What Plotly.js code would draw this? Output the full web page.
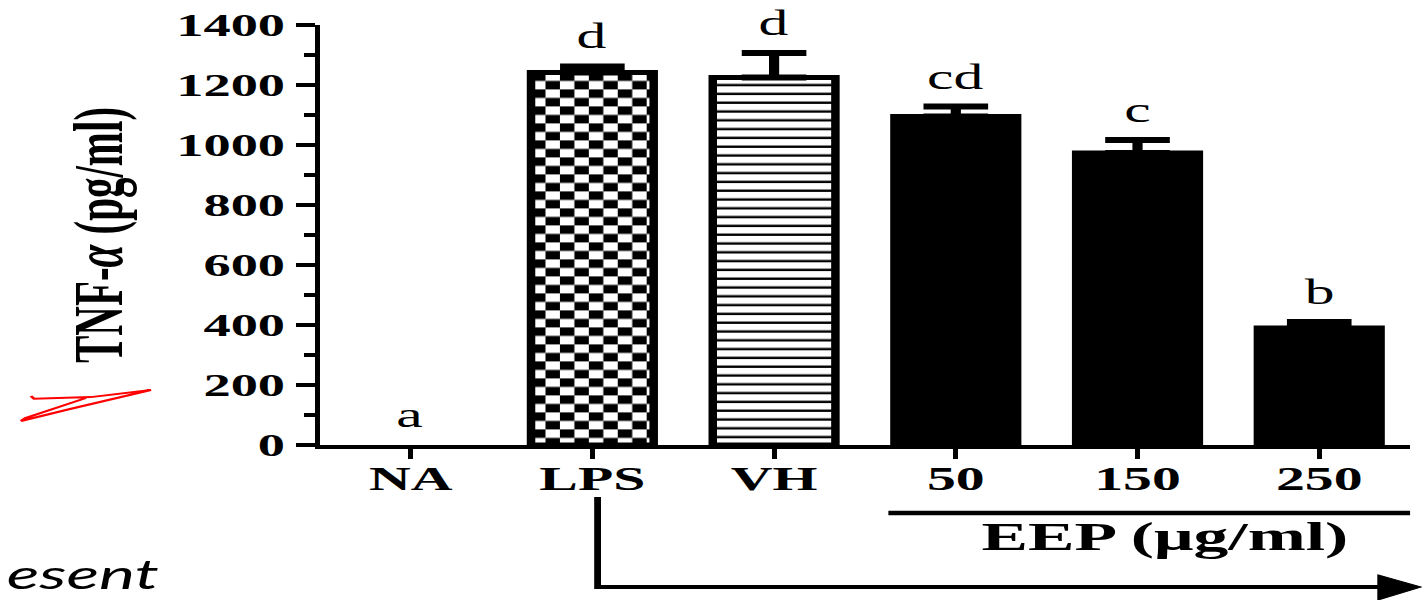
<!DOCTYPE html>
<html><head><meta charset="utf-8">
<script src="https://cdn.plot.ly/plotly-3.0.1.min.js"></script>
<style>
html,body{margin:0;padding:0;background:#fff;overflow:hidden;}
#wrap{width:1422px;height:600px;overflow:hidden;position:relative;}
#chart{width:836px;height:600px;transform:scaleX(1.70096);transform-origin:0 0;}
</style></head><body><div id="wrap"><div id="chart"></div></div>
<script>
// ---- data ----
const categories = ['NA', 'LPS', 'VH', '50', '150', '250'];
const tnfValues = [0, 1242, 1225, 1095, 973, 390];
const tnfErrors = [0, 20, 82, 33, 44, 20];
const groupLetters = ['a', 'd', 'd', 'cd', 'c', 'b'];
const yTickValues = [0, 200, 400, 600, 800, 1000, 1200, 1400];
const yTickLabels = ['0', '200', '400', '600', '800', '1000', '1200', '1400'];
const barFills = ['none', 'checker', 'stripes', 'solid', 'solid', 'solid'];

// ---- styling derived from the fill kinds ----
const barColors = barFills.map(f => (f === 'solid' ? '#000000' : '#ffffff'));
const barLineWidths = barFills.map(f => (f === 'none' ? 0 : 5));
const serif = 'Liberation Serif, Times New Roman, serif';
// no error bar is drawn for a group with no measurable value
const upperErr = tnfErrors.map((e, i) => (tnfValues[i] > 0 ? e : undefined));
const lowerErr = tnfErrors.map((e, i) => (tnfValues[i] > 0 ? 0 : undefined));

const trace = {
  type: 'bar',
  x: categories,
  y: tnfValues,
  width: 0.675,
  marker: {
    color: barColors,
    line: {color: '#000000', width: barLineWidths}
  },
  error_y: {
    type: 'data', symmetric: false,
    array: upperErr, arrayminus: lowerErr,
    color: '#000000', thickness: 6, width: 19
  },
  hoverinfo: 'skip'
};

const letterAnnotations = categories.map((c, i) => ({
  x: i, y: tnfValues[i] + tnfErrors[i], xref: 'x', yref: 'y',
  text: groupLetters[i], showarrow: false, yanchor: 'bottom', yshift: 8,
  font: {family: serif, size: 35, color: '#000000'}
}));

const layout = {
  width: 836, height: 600,
  margin: {l: 188, r: 7, t: 25, b: 155, pad: 0},
  paper_bgcolor: '#ffffff', plot_bgcolor: '#ffffff',
  showlegend: false,
  xaxis: {
    type: 'category', range: [-0.5, 5.5],
    showline: true, linewidth: 4, linecolor: '#000000',
    ticks: 'outside', ticklen: 10, tickwidth: 3, tickcolor: '#000000',
    ticklabelstandoff: -10,
    tickfont: {family: serif, size: 34, color: '#000000', weight: 'bold'},
    showgrid: false, zeroline: false, fixedrange: true
  },
  yaxis: {
    range: [0, 1400], tickmode: 'array', tickvals: yTickValues, ticktext: yTickLabels,
    showline: true, linewidth: 3, linecolor: '#000000',
    ticks: 'outside', ticklen: 11, tickwidth: 4, tickcolor: '#000000',
    minor: {tickmode: 'linear', tick0: 0, dtick: 100, ticks: 'outside', ticklen: 6.5, tickwidth: 4, tickcolor: '#000000'},
    tickfont: {family: serif, size: 32, color: '#000000', weight: 'bold'},
    title: {text: 'TNF-<i>α</i> (pg/ml)', font: {family: serif, size: 41, color: '#000000', weight: 'bold'}, standoff: 19},
    showgrid: false, zeroline: false, fixedrange: true
  },
  annotations: letterAnnotations.concat([
    {x: 0.7755, y: -0.2167, xref: 'paper', yref: 'paper', text: 'EEP (μg/ml)', showarrow: false,
     xanchor: 'center', yanchor: 'middle', font: {family: serif, size: 41, color: '#000000', weight: 'bold'}},
    {x: -0.2905, y: -0.368, xref: 'paper', yref: 'paper', text: 'esent', showarrow: false,
     xanchor: 'left', yanchor: 'bottom', font: {family: 'Lato, Open Sans, sans-serif', size: 40, color: '#000000', style: 'italic'}}
  ]),
  shapes: [
    {type: 'line', xref: 'paper', yref: 'paper', x0: 0.5215, x1: 1.0, y0: -0.162, y1: -0.162, line: {color: '#000000', width: 4.5}},
    {type: 'path', xref: 'paper', yref: 'paper', path: 'M0.2548,-0.1238 L0.2548,-0.338 L0.975,-0.338', line: {color: '#000000', width: 4}},
    {type: 'path', xref: 'paper', yref: 'paper', path: 'M0.9707,-0.3095 L1.0101,-0.338 L0.9707,-0.369 Z', fillcolor: '#000000', line: {color: '#000000', width: 1}},
    {type: 'path', xref: 'paper', yref: 'paper',
     path: 'M-0.2649,0.1167 L-0.2620,0.1100 L-0.2100,0.1140 L-0.1549,0.1310 L-0.2300,0.0850 L-0.2740,0.0571 L-0.2700,0.0640 L-0.2145,0.1119',
     line: {color: '#ff0000', width: 2}}
  ]
};

function addPattern(defs, ns, id, bb, w, h, rects) {
  const pat = document.createElementNS(ns, 'pattern');
  pat.setAttribute('id', id);
  pat.setAttribute('patternUnits', 'userSpaceOnUse');
  pat.setAttribute('x', bb.x);
  pat.setAttribute('y', bb.y);
  pat.setAttribute('width', w);
  pat.setAttribute('height', h);
  const bg = document.createElementNS(ns, 'rect');
  bg.setAttribute('x', 0); bg.setAttribute('y', 0);
  bg.setAttribute('width', w); bg.setAttribute('height', h);
  bg.setAttribute('fill', '#ffffff');
  pat.appendChild(bg);
  rects.forEach(r => {
    const el = document.createElementNS(ns, 'rect');
    el.setAttribute('x', r[0]); el.setAttribute('y', r[1]);
    el.setAttribute('width', r[2]); el.setAttribute('height', r[3]);
    el.setAttribute('fill', '#000000');
    pat.appendChild(el);
  });
  defs.appendChild(pat);
}

Plotly.newPlot('chart', [trace], layout, {staticPlot: true, displayModeBar: false}).then(gd => {
  const ns = 'http://www.w3.org/2000/svg';
  const svg = gd.querySelector('svg.main-svg');
  let defs = svg.querySelector('defs');
  if (!defs) { defs = document.createElementNS(ns, 'defs'); svg.insertBefore(defs, svg.firstChild); }
  const paths = gd.querySelectorAll('g.point path');
  const cell = 8.5, pitch = 8.8, stripe = 2.4;
  barFills.forEach((f, i) => {
    const p = paths[i];
    if (!p) return;
    const bb = p.getBBox();
    if (f === 'checker') {
      addPattern(defs, ns, 'checkerFill' + i, bb, 2 * cell, 2 * cell, [[0, 0, cell, cell], [cell, cell, cell, cell]]);
      p.style.fill = 'url(#checkerFill' + i + ')';
    } else if (f === 'stripes') {
      addPattern(defs, ns, 'stripeFill' + i, bb, 10, pitch, [[0, pitch - stripe, 10, stripe]]);
      p.style.fill = 'url(#stripeFill' + i + ')';
    }
  });
});
</script>
</body></html>
